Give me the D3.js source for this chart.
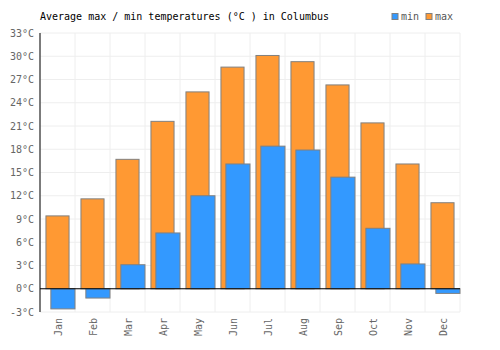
<!DOCTYPE html>
<html>
<head>
<meta charset="utf-8">
<script src="https://cdn.jsdelivr.net/npm/d3@7"></script>
<style>
  body { margin: 0; background: #fff; }
  text { font-family: "DejaVu Sans Mono", monospace; }
</style>
</head>
<body>
<svg id="drawing_region"></svg>
<script>
const months = ["Jan","Feb","Mar","Apr","May","Jun","Jul","Aug","Sep","Oct","Nov","Dec"];
const maxTemps = [9.4, 11.6, 16.7, 21.6, 25.4, 28.6, 30.1, 29.3, 26.3, 21.4, 16.1, 11.1];
const minTemps = [-2.6, -1.2, 3.1, 7.2, 12.0, 16.1, 18.4, 17.9, 14.4, 7.8, 3.2, -0.6];
const yTicks = [-3, 0, 3, 6, 9, 12, 15, 18, 21, 24, 27, 30, 33];

const width = 500, height = 350;
const margin = {top: 33, right: 40, bottom: 38, left: 40};
const innerW = width - margin.left - margin.right;
const innerH = height - margin.top - margin.bottom;

const svg = d3.select('#drawing_region')
    .attr('width', width)
    .attr('height', height);

const chart = svg.append('g')
    .attr('transform', `translate(${margin.left}, ${margin.top})`);

const xscale = d3.scaleBand().domain(months).range([0, innerW]).padding(0);
const yscale = d3.scaleLinear().domain([-3, 33]).range([innerH, 0]);
const bw = xscale.bandwidth();

// grid
chart.selectAll('.hgrid')
    .data(yTicks)
    .enter().append('line')
    .attr('x1', 0).attr('x2', innerW)
    .attr('y1', d => yscale(d)).attr('y2', d => yscale(d))
    .attr('stroke', '#eeeeee').attr('stroke-width', 1);

chart.selectAll('.vgrid')
    .data(months.concat(['end']))
    .enter().append('line')
    .attr('x1', (d, i) => i * bw).attr('x2', (d, i) => i * bw)
    .attr('y1', 0).attr('y2', innerH)
    .attr('stroke', '#eeeeee').attr('stroke-width', 1);

// max bars
chart.selectAll('.maxbar')
    .data(maxTemps)
    .enter().append('rect')
    .attr('x', (d, i) => xscale(months[i]) + bw * 0.17)
    .attr('width', bw * 0.66)
    .attr('y', d => yscale(Math.max(d, 0)))
    .attr('height', d => Math.abs(yscale(d) - yscale(0)))
    .attr('fill', '#ff9933')
    .attr('stroke', '#808080').attr('stroke-width', 1);

// min bars
chart.selectAll('.minbar')
    .data(minTemps)
    .enter().append('rect')
    .attr('x', (d, i) => xscale(months[i]) + bw * 0.31)
    .attr('width', bw * 0.69)
    .attr('y', d => yscale(Math.max(d, 0)))
    .attr('height', d => Math.abs(yscale(d) - yscale(0)))
    .attr('fill', '#3399ff')
    .attr('stroke', '#808080').attr('stroke-width', 1);

// zero line and left axis
chart.append('line')
    .attr('x1', 0).attr('x2', innerW)
    .attr('y1', yscale(0)).attr('y2', yscale(0))
    .attr('stroke', '#000').attr('stroke-width', 1);
chart.append('line')
    .attr('x1', 0).attr('x2', 0)
    .attr('y1', 0).attr('y2', innerH)
    .attr('stroke', '#000').attr('stroke-width', 1);

// y labels
chart.selectAll('.ylabel')
    .data(yTicks)
    .enter().append('text')
    .attr('x', -6)
    .attr('y', d => yscale(d))
    .attr('dy', '0.35em')
    .attr('text-anchor', 'end')
    .attr('font-size', '10px')
    .attr('fill', '#666')
    .text(d => d + '°C');

// x labels
chart.selectAll('.xlabel')
    .data(months)
    .enter().append('text')
    .attr('transform', d => `translate(${xscale(d) + bw / 2 + 4}, ${innerH + 6}) rotate(-90)`)
    .attr('text-anchor', 'end')
    .attr('font-size', '10px')
    .attr('fill', '#666')
    .text(d => d);

// title
svg.append('text')
    .attr('x', 40).attr('y', 20)
    .attr('font-size', '10px')
    .attr('fill', '#000')
    .text('Average max / min temperatures (°C ) in Columbus');

// legend
const legend = [{name: 'min', color: '#3399ff', x: 392}, {name: 'max', color: '#ff9933', x: 426}];
const lg = svg.selectAll('.legend')
    .data(legend)
    .enter().append('g');
lg.append('rect')
    .attr('x', d => d.x).attr('y', 13.5)
    .attr('width', 6).attr('height', 6)
    .attr('fill', d => d.color)
    .attr('stroke', '#808080').attr('stroke-width', 1);
lg.append('text')
    .attr('x', d => d.x + 9).attr('y', 20)
    .attr('font-size', '10px')
    .attr('fill', '#555')
    .text(d => d.name);
</script>
</body>
</html>
